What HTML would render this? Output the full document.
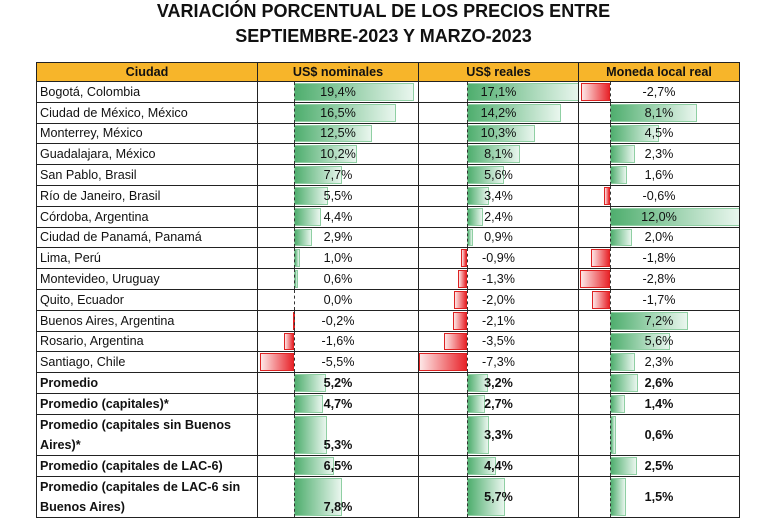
<!DOCTYPE html>
<html><head><meta charset="utf-8"><style>
body{margin:0;background:#fff;width:767px;height:530px;overflow:hidden;font-family:"Liberation Sans",sans-serif;}
h1{position:absolute;left:0;width:767px;text-align:center;margin:0;font-size:18px;font-weight:bold;color:#111;}
table{position:absolute;left:36px;top:62px;border-collapse:collapse;table-layout:fixed;width:703px;font-size:12.6px;color:#111;}
td,th{border:1.3px solid #222;padding:0 3px;position:relative;overflow:hidden;white-space:nowrap;}
th{background:#f7b52a;height:18px;font-weight:bold;font-size:12.6px;}
td.c{text-align:center;}
td.c span{position:relative;z-index:2;}
tr.d td{height:19.8px;}
tr.b td{font-weight:bold;height:20px;}
tr.t td{font-weight:bold;height:40px;white-space:normal;line-height:20px;}
.n1{--s:6.2px;--z:36px;}
.n2{--s:6.6px;--z:48px;}
.n3{--s:10.8px;--z:31px;}
.z::before{content:"";position:absolute;left:var(--z);top:0;bottom:0;border-left:1px dashed #333;z-index:1;}
i{position:absolute;top:1px;bottom:1px;width:calc(var(--v)*var(--s));}
i.p{left:var(--z);background:linear-gradient(90deg,#4fae6e,#e9f6ee);border:1px solid #8fcfa3;box-sizing:border-box;}
i.m{left:calc(var(--z) - var(--v)*var(--s));background:linear-gradient(90deg,#fde6e6,#e8252b);border:1px solid #d22;box-sizing:border-box;}
tr.t td.bot span{position:absolute;left:0;right:0;bottom:0;line-height:20px;}
</style></head><body>
<h1 style="top:1px">VARIACIÓN PORCENTUAL DE LOS PRECIOS ENTRE</h1>
<h1 style="top:26px">SEPTIEMBRE-2023 Y MARZO-2023</h1>
<table>
<colgroup><col style="width:221px"><col style="width:161px"><col style="width:160px"><col style="width:161px"></colgroup>
<tr><th>Ciudad</th><th>US$ nominales</th><th>US$ reales</th><th>Moneda local real</th></tr>
<tr class="d"><td>Bogotá, Colombia</td><td class="c n1 z"><i class="p" style="--v:19.4"></i><span>19,4%</span></td><td class="c n2 z"><i class="p" style="--v:17.1"></i><span>17,1%</span></td><td class="c n3 z"><i class="m" style="--v:2.7"></i><span>-2,7%</span></td></tr>
<tr class="d"><td>Ciudad de México, México</td><td class="c n1 z"><i class="p" style="--v:16.5"></i><span>16,5%</span></td><td class="c n2 z"><i class="p" style="--v:14.2"></i><span>14,2%</span></td><td class="c n3 z"><i class="p" style="--v:8.1"></i><span>8,1%</span></td></tr>
<tr class="d"><td>Monterrey, México</td><td class="c n1 z"><i class="p" style="--v:12.5"></i><span>12,5%</span></td><td class="c n2 z"><i class="p" style="--v:10.3"></i><span>10,3%</span></td><td class="c n3 z"><i class="p" style="--v:4.5"></i><span>4,5%</span></td></tr>
<tr class="d"><td>Guadalajara, México</td><td class="c n1 z"><i class="p" style="--v:10.2"></i><span>10,2%</span></td><td class="c n2 z"><i class="p" style="--v:8.1"></i><span>8,1%</span></td><td class="c n3 z"><i class="p" style="--v:2.3"></i><span>2,3%</span></td></tr>
<tr class="d"><td>San Pablo, Brasil</td><td class="c n1 z"><i class="p" style="--v:7.7"></i><span>7,7%</span></td><td class="c n2 z"><i class="p" style="--v:5.6"></i><span>5,6%</span></td><td class="c n3 z"><i class="p" style="--v:1.6"></i><span>1,6%</span></td></tr>
<tr class="d"><td>Río de Janeiro, Brasil</td><td class="c n1 z"><i class="p" style="--v:5.5"></i><span>5,5%</span></td><td class="c n2 z"><i class="p" style="--v:3.4"></i><span>3,4%</span></td><td class="c n3 z"><i class="m" style="--v:0.6"></i><span>-0,6%</span></td></tr>
<tr class="d"><td>Córdoba, Argentina</td><td class="c n1 z"><i class="p" style="--v:4.4"></i><span>4,4%</span></td><td class="c n2 z"><i class="p" style="--v:2.4"></i><span>2,4%</span></td><td class="c n3 z"><i class="p" style="--v:12"></i><span>12,0%</span></td></tr>
<tr class="d"><td>Ciudad de Panamá, Panamá</td><td class="c n1 z"><i class="p" style="--v:2.9"></i><span>2,9%</span></td><td class="c n2 z"><i class="p" style="--v:0.9"></i><span>0,9%</span></td><td class="c n3 z"><i class="p" style="--v:2.0"></i><span>2,0%</span></td></tr>
<tr class="d"><td>Lima, Perú</td><td class="c n1 z"><i class="p" style="--v:1.0"></i><span>1,0%</span></td><td class="c n2 z"><i class="m" style="--v:0.9"></i><span>-0,9%</span></td><td class="c n3 z"><i class="m" style="--v:1.8"></i><span>-1,8%</span></td></tr>
<tr class="d"><td>Montevideo, Uruguay</td><td class="c n1 z"><i class="p" style="--v:0.6"></i><span>0,6%</span></td><td class="c n2 z"><i class="m" style="--v:1.3"></i><span>-1,3%</span></td><td class="c n3 z"><i class="m" style="--v:2.8"></i><span>-2,8%</span></td></tr>
<tr class="d"><td>Quito, Ecuador</td><td class="c n1 z"><span>0,0%</span></td><td class="c n2 z"><i class="m" style="--v:2.0"></i><span>-2,0%</span></td><td class="c n3 z"><i class="m" style="--v:1.7"></i><span>-1,7%</span></td></tr>
<tr class="d"><td>Buenos Aires, Argentina</td><td class="c n1 z"><i class="m" style="--v:0.2"></i><span>-0,2%</span></td><td class="c n2 z"><i class="m" style="--v:2.1"></i><span>-2,1%</span></td><td class="c n3 z"><i class="p" style="--v:7.2"></i><span>7,2%</span></td></tr>
<tr class="d"><td>Rosario, Argentina</td><td class="c n1 z"><i class="m" style="--v:1.6"></i><span>-1,6%</span></td><td class="c n2 z"><i class="m" style="--v:3.5"></i><span>-3,5%</span></td><td class="c n3 z"><i class="p" style="--v:5.6"></i><span>5,6%</span></td></tr>
<tr class="d"><td>Santiago, Chile</td><td class="c n1 z"><i class="m" style="--v:5.5"></i><span>-5,5%</span></td><td class="c n2 z"><i class="m" style="--v:7.3"></i><span>-7,3%</span></td><td class="c n3 z"><i class="p" style="--v:2.3"></i><span>2,3%</span></td></tr>
<tr class="b"><td>Promedio</td><td class="c n1 z"><i class="p" style="--v:5.2"></i><span>5,2%</span></td><td class="c n2 z"><i class="p" style="--v:3.2"></i><span>3,2%</span></td><td class="c n3 z"><i class="p" style="--v:2.6"></i><span>2,6%</span></td></tr>
<tr class="b"><td>Promedio (capitales)*</td><td class="c n1 z"><i class="p" style="--v:4.7"></i><span>4,7%</span></td><td class="c n2 z"><i class="p" style="--v:2.7"></i><span>2,7%</span></td><td class="c n3 z"><i class="p" style="--v:1.4"></i><span>1,4%</span></td></tr>
<tr class="t"><td>Promedio (capitales sin Buenos Aires)*</td><td class="c n1 z bot"><i class="p" style="--v:5.3"></i><span>5,3%</span></td><td class="c n2 z"><i class="p" style="--v:3.3"></i><span>3,3%</span></td><td class="c n3 z"><i class="p" style="--v:0.6"></i><span>0,6%</span></td></tr>
<tr class="b"><td>Promedio (capitales de LAC-6)</td><td class="c n1 z"><i class="p" style="--v:6.5"></i><span>6,5%</span></td><td class="c n2 z"><i class="p" style="--v:4.4"></i><span>4,4%</span></td><td class="c n3 z"><i class="p" style="--v:2.5"></i><span>2,5%</span></td></tr>
<tr class="t"><td>Promedio (capitales de LAC-6 sin Buenos Aires)</td><td class="c n1 z bot"><i class="p" style="--v:7.8"></i><span>7,8%</span></td><td class="c n2 z"><i class="p" style="--v:5.7"></i><span>5,7%</span></td><td class="c n3 z"><i class="p" style="--v:1.5"></i><span>1,5%</span></td></tr>
</table>
</body></html>
